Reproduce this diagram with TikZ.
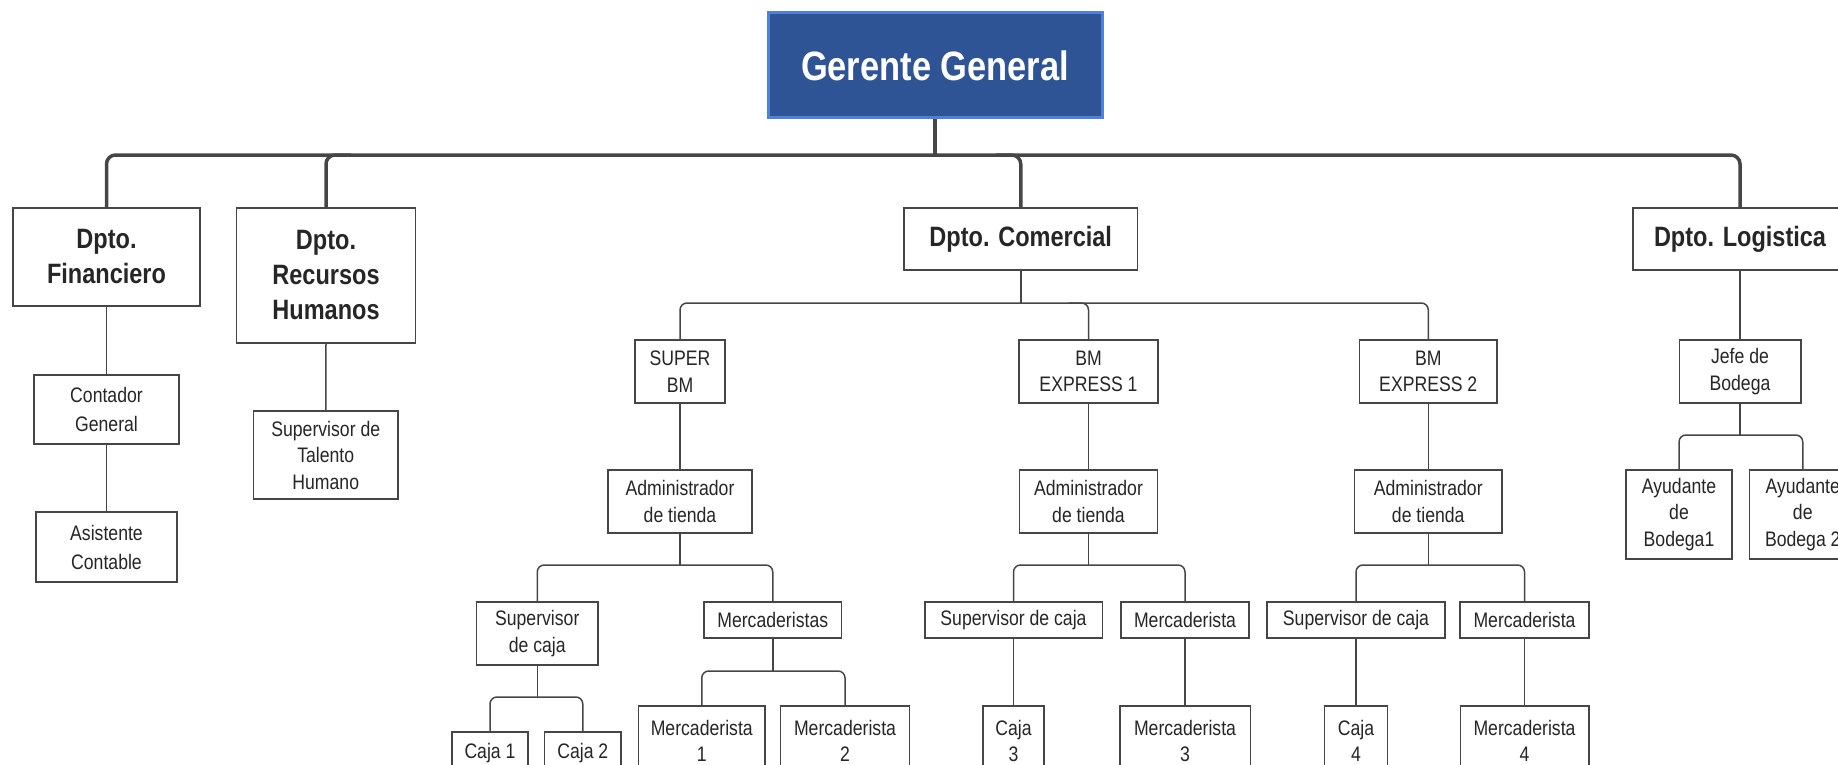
\documentclass[tikz,border=0pt]{standalone}
\usepackage{fontspec}
\setmainfont[FakeStretch=0.84]{Liberation Sans}
\definecolor{ggfill}{RGB}{47,84,150}
\definecolor{ggedge}{RGB}{79,129,220}
\definecolor{lncol}{RGB}{70,70,70}
\begin{document}
\begin{tikzpicture}[x=1pt,y=-1pt,
  box/.style={draw=lncol, line width=1.5pt, fill=white, align=center, inner sep=0pt, text=black!85},
  topbox/.style={draw=ggedge, line width=3pt, fill=ggfill, text=white, align=center, inner sep=0pt,
     font=\fontsize{41}{48}\selectfont\bfseries},
  lvone/.style={box, font=\fontsize{28}{35}\selectfont\bfseries},
  lvtwo/.style={box, font=\fontsize{21}{26.5}\selectfont},
  wide/.style={box, font=\fontsize{21}{29}\selectfont},
  conn/.style={draw=lncol, line width=1.5pt, rounded corners=7pt},
  mainconn/.style={draw=lncol, line width=3.5pt, rounded corners=9pt},
  sz/.style 2 args={minimum width=#1, minimum height=#2}]
\useasboundingbox (0,0) rectangle (1838,765);
\begin{scope}
\clip (0,0) rectangle (1838,765);
% top
\node[topbox, sz={334}{105}] (gg) at (935,65.5) {Gerente General};
% level 1
\node[lvone, sz={187}{98}] (fin) at (106.5,257) {Dpto.\\Financiero};
\node[lvone, sz={179}{135}] (rrhh) at (326,275.5) {Dpto.\\Recursos\\Humanos};
\node[lvone, sz={233.5}{62}] (com) at (1020.75,239) {Dpto. Comercial};
\node[lvone, sz={214}{62}] (log) at (1740,239) {Dpto. Logistica};
% financiero / rrhh
\node[wide, sz={145}{69}] (cont) at (106.5,409.5) {Contador\\General};
\node[wide, sz={141}{70}] (asis) at (106.5,547) {Asistente\\Contable};
\node[lvtwo, sz={144.5}{88}] (sth) at (325.75,455) {Supervisor de\\Talento\\Humano};
% stores
\node[lvtwo, sz={90}{63}] (sbm) at (680,371.5) {SUPER\\BM};
\node[lvtwo, sz={139}{63}] (ex1) at (1088.5,371.5) {BM\\EXPRESS 1};
\node[lvtwo, sz={137.5}{63}] (ex2) at (1428.25,371.5) {BM\\EXPRESS 2};
\node[lvtwo, sz={121.5}{63}] (jefe) at (1740,371.5) {Jefe de\\Bodega};
% administrators
\node[lvtwo, sz={144.4}{63}] (adm1) at (680,501.5) {Administrador\\de tienda};
\node[lvtwo, sz={137.6}{63}] (adm2) at (1088.5,501.5) {Administrador\\de tienda};
\node[lvtwo, sz={147.8}{63}] (adm3) at (1428.25,501.5) {Administrador\\de tienda};
\node[lvtwo, sz={106}{89}] (ay1) at (1679,514.5) {Ayudante\\de\\Bodega1};
\node[lvtwo, sz={106.5}{89}] (ay2) at (1802.75,514.5) {Ayudante\\de\\Bodega 2};
% level 4
\node[lvtwo, sz={121.5}{63}] (sc1) at (537.25,633.5) {Supervisor\\de caja};
\node[lvtwo, sz={137.5}{36}] (mer1) at (772.75,620) {Mercaderistas};
\node[lvtwo, sz={177.5}{36}] (sc2) at (1013.5,620) {Supervisor de caja};
\node[lvtwo, sz={128}{36}] (mer2) at (1185,620) {Mercaderista};
\node[lvtwo, sz={178}{36}] (sc3) at (1356,620) {Supervisor de caja};
\node[lvtwo, sz={129}{36}] (mer3) at (1524.5,620) {Mercaderista};
% level 5
\node[lvtwo, sz={76}{42}] (caja1) at (490,753) {Caja 1};
\node[lvtwo, sz={76.4}{42}] (caja2) at (582.8,753) {Caja 2};
\node[lvtwo, sz={126.5}{70}] (m1) at (701.75,741) {Mercaderista\\1};
\node[lvtwo, sz={129}{70}] (m2) at (845,741) {Mercaderista\\2};
\node[lvtwo, sz={61.3}{70}] (caja3) at (1013.5,741) {Caja\\3};
\node[lvtwo, sz={130.5}{70}] (m3) at (1185,741) {Mercaderista\\3};
\node[lvtwo, sz={62.6}{70}] (caja4) at (1356,741) {Caja\\4};
\node[lvtwo, sz={128.5}{70}] (m4) at (1524.5,741) {Mercaderista\\4};
% bus coordinates
\coordinate (b0) at (0,155);
\coordinate (b1) at (0,303);
\coordinate (b2) at (0,435);
\coordinate (b3) at (0,565);
\coordinate (b4) at (0,697);
\coordinate (b5) at (0,671);
% main connectors
\draw[mainconn] (gg.south) -- (gg.south |- b0);
\draw[mainconn] (fin.north) -- (fin.north |- b0) -- (log.north |- b0) -- (log.north);
\draw[mainconn] (rrhh.north) -- (rrhh.north |- b0) -- ++(25,0);
\draw[mainconn] (com.north) -- (com.north |- b0) -- ++(-25,0);
% financiero / rrhh
\draw[conn] (fin.south) -- (cont.north);
\draw[conn] (cont.south) -- (asis.north);
\draw[conn] (rrhh.south) -- (sth.north);
% comercial
\draw[conn] (com.south) -- (com.south |- b1);
\draw[conn] (sbm.north) -- (sbm.north |- b1) -- (ex2.north |- b1) -- (ex2.north);
\draw[conn] (ex1.north) -- (ex1.north |- b1) -- ++(-20,0);
\draw[conn] (sbm.south) -- (adm1.north);
\draw[conn] (ex1.south) -- (adm2.north);
\draw[conn] (ex2.south) -- (adm3.north);
% logistica
\draw[conn] (log.south) -- (jefe.north);
\draw[conn] (jefe.south) -- (jefe.south |- b2);
\draw[conn] (ay1.north) -- (ay1.north |- b2) -- (ay2.north |- b2) -- (ay2.north);
% administrators
\draw[conn] (adm1.south) -- (adm1.south |- b3);
\draw[conn] (sc1.north) -- (sc1.north |- b3) -- (mer1.north |- b3) -- (mer1.north);
\draw[conn] (adm2.south) -- (adm2.south |- b3);
\draw[conn] (sc2.north) -- (sc2.north |- b3) -- (mer2.north |- b3) -- (mer2.north);
\draw[conn] (adm3.south) -- (adm3.south |- b3);
\draw[conn] (sc3.north) -- (sc3.north |- b3) -- (mer3.north |- b3) -- (mer3.north);
% level 5
\draw[conn] (sc1.south) -- (sc1.south |- b4);
\draw[conn] (caja1.north) -- (caja1.north |- b4) -- (caja2.north |- b4) -- (caja2.north);
\draw[conn] (mer1.south) -- (mer1.south |- b5);
\draw[conn] (m1.north) -- (m1.north |- b5) -- (m2.north |- b5) -- (m2.north);
\draw[conn] (sc2.south) -- (caja3.north);
\draw[conn] (mer2.south) -- (m3.north);
\draw[conn] (sc3.south) -- (caja4.north);
\draw[conn] (mer3.south) -- (m4.north);
\end{scope}
\end{tikzpicture}
\end{document}
